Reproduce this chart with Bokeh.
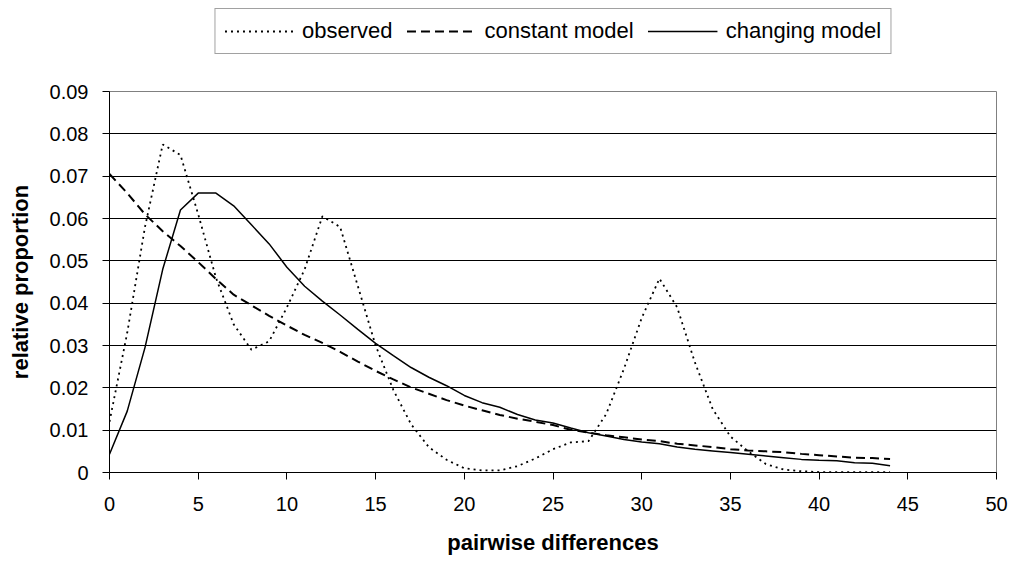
from bokeh.plotting import figure
from bokeh.layouts import column
from bokeh.models import Legend, LegendItem, FixedTicker, CustomJSTickFormatter, Range1d
from bokeh.embed import file_html
from bokeh.resources import INLINE

# pairwise differences (x) and the three series
diffs = list(range(45))
observed = [0.012, 0.033, 0.058, 0.0775, 0.075, 0.061, 0.046, 0.035, 0.029, 0.031,
            0.039, 0.048, 0.0605, 0.058, 0.044, 0.030, 0.0195, 0.0114, 0.006, 0.003,
            0.001, 0.0005, 0.0005, 0.0015, 0.0033, 0.0055, 0.0071, 0.0074, 0.0138, 0.0245,
            0.0365, 0.0458, 0.039, 0.026, 0.015, 0.0085, 0.005, 0.002, 0.0007, 0.0003,
            0.0001, 0.0001, 0.0001, 0.0001, 0.0001]
constant_model = [0.0705, 0.066, 0.061, 0.057, 0.0535, 0.0497, 0.0457, 0.042, 0.0395, 0.037,
                  0.0347, 0.0325, 0.0306, 0.0285, 0.0262, 0.024, 0.022, 0.0201, 0.0186, 0.0171,
                  0.0158, 0.0147, 0.0136, 0.0127, 0.012, 0.0112, 0.0101, 0.0094, 0.0088, 0.0083,
                  0.0078, 0.0074, 0.0068, 0.0064, 0.006, 0.0055, 0.0052, 0.005, 0.0048, 0.0044,
                  0.0041, 0.0038, 0.0035, 0.0034, 0.0032]
changing_model = [0.0043, 0.0145, 0.0295, 0.048, 0.062, 0.066, 0.066, 0.063, 0.0585, 0.054,
                  0.0485, 0.044, 0.0405, 0.0372, 0.0338, 0.0305, 0.0276, 0.0248, 0.0225, 0.0205,
                  0.0182, 0.0165, 0.0154, 0.0137, 0.0124, 0.0117, 0.0105, 0.0094, 0.0086, 0.0078,
                  0.0072, 0.0068, 0.006, 0.0055, 0.0051, 0.0047, 0.0043, 0.0039, 0.0035, 0.0031,
                  0.0029, 0.0028, 0.0023, 0.0022, 0.0016]
series = [observed, constant_model, changing_model]
series_labels = ["observed", "constant model", "changing model"]
x_ticks = [0, 5, 10, 15, 20, 25, 30, 35, 40, 45, 50]
y_ticks = [0, 0.01, 0.02, 0.03, 0.04, 0.05, 0.06, 0.07, 0.08, 0.09]

FONT = "Liberation Sans"
styles = [dict(line_color="black", line_width=1.8, line_dash="2 4"),
          dict(line_color="black", line_width=2, line_dash="9 5"),
          dict(line_color="black", line_width=1.5)]

# ---- main chart ----
p = figure(width=1014, height=483, output_backend="svg", toolbar_location=None,
           x_range=Range1d(0, 50), y_range=Range1d(0, 0.09),
           min_border_left=109, min_border_right=18, min_border_top=12, min_border_bottom=90,
           background_fill_color="white", border_fill_color="white")
p.outline_line_color = "#808080"
p.outline_line_width = 1

p.xgrid.visible = False
p.ygrid.grid_line_color = "black"
p.ygrid.grid_line_width = 1

p.xaxis.ticker = FixedTicker(ticks=x_ticks)
p.yaxis.ticker = FixedTicker(ticks=y_ticks)
p.yaxis.formatter = CustomJSTickFormatter(code="return Math.abs(tick) < 1e-9 ? '0' : tick.toFixed(2);")

for ax in (p.xaxis[0], p.yaxis[0]):
    ax.axis_line_color = "black"
    ax.axis_line_width = 1
    ax.major_tick_line_color = "black"
    ax.major_tick_out = 7
    ax.major_tick_in = 0
    ax.minor_tick_line_color = None
    ax.major_label_text_font = FONT
    ax.major_label_text_font_size = "20px"
    ax.major_label_text_color = "black"
    ax.axis_label_text_font = FONT
    ax.axis_label_text_font_size = "22px"
    ax.axis_label_text_font_style = "bold"
    ax.axis_label_text_color = "black"

p.xaxis.axis_label = "pairwise differences"
p.yaxis.axis_label = "relative proportion"
p.xaxis.major_label_standoff = 17
p.xaxis.axis_label_standoff = 16
p.yaxis.major_label_standoff = 14
p.yaxis.axis_label_standoff = 14

for ys, st in zip(series, styles):
    p.line(diffs, ys, **st)

# ---- legend strip above the chart (series drawn out of view, legend only) ----
lg = figure(width=1014, height=79, output_backend="svg", toolbar_location=None,
            x_range=Range1d(0, 50), y_range=Range1d(1, 2),
            x_axis_type=None, y_axis_type=None,
            min_border_left=109, min_border_right=18, min_border_top=0, min_border_bottom=0,
            background_fill_color="white", border_fill_color="white")
lg.outline_line_color = None
lg.xgrid.visible = False
lg.ygrid.visible = False
keys = [lg.line(diffs, ys, **st) for ys, st in zip(series, styles)]

legend = Legend(items=[LegendItem(label=lab, renderers=[r]) for lab, r in zip(series_labels, keys)],
                orientation="horizontal", location="top_center")
legend.label_text_font = FONT
legend.label_text_font_size = "22px"
legend.label_text_color = "black"
legend.glyph_width = 70
legend.glyph_height = 20
legend.label_height = 20
legend.label_standoff = 8
legend.spacing = 14
legend.padding = 9
legend.margin = 8
legend.border_line_color = "#444444"
legend.border_line_width = 1
legend.background_fill_color = "white"
legend.background_fill_alpha = 1
lg.add_layout(legend)

layout = column(lg, p, spacing=0)
open("out.html", "w").write(file_html(layout, INLINE))
